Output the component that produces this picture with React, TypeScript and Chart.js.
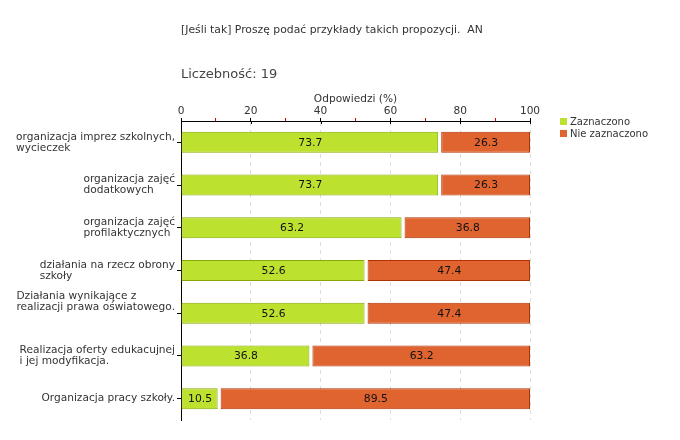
import React, { useEffect, useRef } from 'react';
import { Chart, registerables } from 'chart.js';

Chart.register(...registerables);

const TITLE = '[Jeśli tak] Proszę podać przykłady takich propozycji.  AN';
const COUNT_LABEL = 'Liczebność: 19';
const AXIS_TITLE = 'Odpowiedzi (%)';

const categories: string[][] = [
  ['organizacja imprez szkolnych,', 'wycieczek'],
  ['organizacja zajęć', 'dodatkowych'],
  ['organizacja zajęć', 'profilaktycznych'],
  ['działania na rzecz obrony', 'szkoły'],
  ['Działania wynikające z', 'realizacji prawa oświatowego.', '', ''],
  ['Realizacja oferty edukacujnej', 'i jej modyfikacja.'],
  ['Organizacja pracy szkoły.'],
];
const seriesNames = ['Zaznaczono', 'Nie zaznaczono'];
const zaznaczono = [73.7, 73.7, 63.2, 52.6, 52.6, 36.8, 10.5];
const nieZaznaczono = [26.3, 26.3, 36.8, 47.4, 47.4, 63.2, 89.5];
const X_MIN = 0;
const X_MAX = 100;
const X_MAJOR_STEP = 20;
const X_MINOR_STEP = 10;

const GREEN = '#bde12f';
const GREEN_BORDER = '#86a800';
const RED = '#e06430';
const RED_BORDER = '#b03000';
const FONT = '"DejaVu Sans", Verdana, sans-serif';
const TEXT = '#333333';
const GAP = 3;

const gapPlugin = {
  id: 'segmentGap',
  beforeDatasetDraw(chart: any, args: any) {
    if (args.index !== 1) return;
    const meta = chart.getDatasetMeta(1);
    meta.data.forEach((el: any) => {
      el.$origBase = el.base;
      el.base = el.base + GAP;
    });
  },
  afterDatasetDraw(chart: any, args: any) {
    if (args.index !== 1) return;
    const meta = chart.getDatasetMeta(1);
    meta.data.forEach((el: any) => {
      if (el.$origBase !== undefined) el.base = el.$origBase;
    });
  },
};

const valueLabelPlugin = {
  id: 'valueLabels',
  afterDatasetsDraw(chart: any) {
    const ctx = chart.ctx;
    ctx.save();
    ctx.font = `10.8px ${FONT}`;
    ctx.fillStyle = '#111111';
    ctx.textAlign = 'center';
    ctx.textBaseline = 'middle';
    chart.data.datasets.forEach((ds: any, di: number) => {
      const meta = chart.getDatasetMeta(di);
      meta.data.forEach((el: any, i: number) => {
        const shift = di === 1 ? GAP : 0;
        const left = Math.min(el.x, el.base) + shift;
        const right = Math.max(el.x, el.base);
        ctx.fillText(Number(ds.data[i]).toFixed(1), (left + right) / 2 + 0.5, el.y + 0.5);
      });
    });
    ctx.restore();
  },
};

const categoryLabelPlugin = {
  id: 'categoryLabels',
  afterDraw(chart: any) {
    const ctx = chart.ctx;
    const yScale = chart.scales.y;
    const xScale = chart.scales.x;
    ctx.save();
    // inner extension of major x ticks
    ctx.strokeStyle = '#000';
    ctx.lineWidth = 1;
    for (let v = X_MIN; v <= X_MAX; v += X_MAJOR_STEP) {
      const px = Math.round(xScale.getPixelForValue(v)) + 0.5;
      ctx.beginPath();
      ctx.moveTo(px, xScale.bottom);
      ctx.lineTo(px, xScale.bottom + 3);
      ctx.stroke();
    }
    ctx.font = `10.6px ${FONT}`;
    ctx.fillStyle = TEXT;
    ctx.textAlign = 'left';
    ctx.textBaseline = 'middle';
    const lh = 11;
    categories.forEach((lines, i) => {
      const cy = yScale.getPixelForValue(i);
      const w = Math.max(...lines.map((l) => ctx.measureText(l).width));
      const x0 = yScale.right - 6 - w;
      lines.forEach((l, j) => {
        ctx.fillText(l, x0, cy + (j - (lines.length - 1) / 2) * lh);
      });
    });
    ctx.restore();
  },
};

export default function App() {
  const canvasRef = useRef<HTMLCanvasElement | null>(null);

  useEffect(() => {
    if (!canvasRef.current) return;
    const chart = new Chart(canvasRef.current, {
      type: 'bar',
      data: {
        labels: categories.map((c) => c.join(' ')),
        datasets: [
          {
            label: seriesNames[0],
            data: zaznaczono,
            backgroundColor: GREEN,
            borderColor: GREEN_BORDER,
            borderWidth: 1,
            borderSkipped: false,
            inflateAmount: 0,
            barThickness: 21,
          },
          {
            label: seriesNames[1],
            data: nieZaznaczono,
            backgroundColor: RED,
            borderColor: RED_BORDER,
            borderWidth: 1,
            borderSkipped: false,
            inflateAmount: 0,
            barThickness: 21,
          },
        ],
      },
      options: {
        indexAxis: 'y',
        animation: false,
        responsive: false,
        maintainAspectRatio: false,
        layout: { padding: { top: 86, right: 150, bottom: 20, left: 0 } },
        plugins: {
          legend: { display: false },
          tooltip: { enabled: false },
          title: { display: false },
        },
        scales: {
          x: {
            type: 'linear',
            position: 'top',
            stacked: true,
            min: X_MIN,
            max: X_MAX,
            afterFit: (scale: any) => {
              scale.height = 35;
            },
            title: {
              display: true,
              text: AXIS_TITLE,
              color: TEXT,
              font: { family: FONT, size: 10.6 },
              padding: { top: 7, bottom: 2 },
            },
            ticks: {
              stepSize: X_MINOR_STEP,
              autoSkip: false,
              maxRotation: 0,
              color: TEXT,
              font: { family: FONT, size: 10.6 },
              padding: 0,
              callback: (v: any) => (Number(v) % X_MAJOR_STEP === 0 ? String(v) : ''),
            },
            grid: {
              color: (ctx: any) =>
                ctx.tick && ctx.tick.value % X_MAJOR_STEP === 0 && ctx.tick.value !== X_MIN
                  ? '#dddddd'
                  : 'rgba(0,0,0,0)',
              tickColor: (ctx: any) =>
                ctx.tick && ctx.tick.value % X_MAJOR_STEP === 0 ? '#000000' : '#dd0000',
              tickLength: 3,
              lineWidth: 1,
            },
            border: { color: '#000000', width: 1, dash: [4, 4] },
          },
          y: {
            type: 'category',
            stacked: true,
            afterFit: (scale: any) => {
              scale.width = 181;
            },
            ticks: { callback: () => '', autoSkip: false },
            grid: {
              offset: false,
              drawOnChartArea: false,
              tickLength: 4,
              tickColor: '#000000',
            },
            border: { color: '#000000', width: 1 },
          },
        },
      },
      plugins: [gapPlugin, valueLabelPlugin, categoryLabelPlugin],
    } as any);
    return () => chart.destroy();
  }, []);

  const textStyle: React.CSSProperties = {
    position: 'absolute',
    fontFamily: FONT,
    color: TEXT,
    whiteSpace: 'pre',
    lineHeight: '13px',
  };

  return (
    <div style={{ position: 'absolute', left: 0, top: 0, width: 680, height: 440, background: '#fff' }}>
      <canvas ref={canvasRef} width={680} height={440} style={{ position: 'absolute', left: 0, top: 0 }} />
      <div style={{ ...textStyle, left: 181, top: 23, fontSize: 10.8 }}>{TITLE}</div>
      <div style={{ ...textStyle, left: 181, top: 67, fontSize: 13, color: '#444' }}>{COUNT_LABEL}</div>
      {seriesNames.map((name, i) => (
        <div key={name} style={{ ...textStyle, left: 560, top: 116 + i * 12, fontSize: 10, lineHeight: '12px' }}>
          <span
            style={{
              display: 'inline-block',
              width: 7,
              height: 7,
              marginRight: 3,
              background: i === 0 ? GREEN : RED,
              verticalAlign: 'middle',
              position: 'relative',
              top: -1,
            }}
          />
          {name}
        </div>
      ))}
    </div>
  );
}
